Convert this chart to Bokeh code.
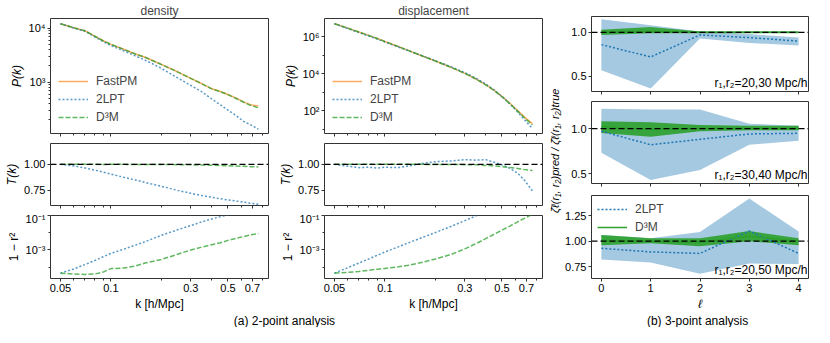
from bokeh.plotting import figure
from bokeh.models import Range1d, FixedTicker, Span, Label, NumeralTickFormatter, CustomLabelingPolicy
from bokeh.layouts import column, row
from bokeh.embed import file_html
from bokeh.resources import INLINE
import math

# ---------------- data ----------------
k_grid = [0.05, 0.06, 0.07, 0.08, 0.09, 0.10, 0.12, 0.14, 0.16, 0.20,
          0.25, 0.30, 0.35, 0.40, 0.45, 0.50, 0.56, 0.62, 0.68, 0.76]

# density
pk_den_fastpm = [12000, 10100, 8900, 7070, 5810, 4990, 4010, 3300, 2880, 2130,
                 1550, 1175, 930, 755, 670, 590, 505, 431, 383, 360]
pk_den_2lpt = [12000, 10000, 8700, 6900, 5600, 4750, 3750, 3050, 2550, 1800,
               1200, 866, 660, 487, 381, 303, 239, 188, 163, 135]
pk_den_d3m = [12000, 10100, 8900, 7080, 5800, 4990, 4010, 3300, 2880, 2120,
              1545, 1170, 925, 750, 665, 585, 498, 424, 373, 335]
T_den_2lpt = [1.0, 0.985, 0.965, 0.945, 0.925, 0.907, 0.875, 0.85, 0.826, 0.79,
              0.75, 0.722, 0.70, 0.684, 0.67, 0.658, 0.648, 0.637, 0.627, 0.616]
T_den_d3m = [1.0, 1.0, 1.0, 1.0, 0.999, 1.0, 1.0, 0.999, 0.999, 0.998,
             0.997, 0.995, 0.993, 0.991, 0.989, 0.987, 0.984, 0.981, 0.978, 0.975]
k_r2_den_2lpt = [0.05, 0.06, 0.07, 0.08, 0.09, 0.10, 0.12, 0.14, 0.16, 0.20,
                 0.25, 0.30, 0.35, 0.40, 0.45, 0.50]
r2_den_2lpt = [4.5e-5, 7.9e-5, 1.41e-4, 2.4e-4, 4.0e-4, 6.3e-4, 1.12e-3, 1.9e-3, 3.0e-3, 7.1e-3,
               1.48e-2, 2.6e-2, 4.3e-2, 6.3e-2, 8.5e-2, 0.11]
r2_den_d3m = [4.5e-5, 4.0e-5, 3.8e-5, 4.0e-5, 5.2e-5, 8.3e-5, 8.9e-5, 1.17e-4, 1.74e-4, 2.8e-4,
              5.6e-4, 1.0e-3, 1.48e-3, 2.0e-3, 2.6e-3, 3.6e-3, 4.7e-3, 6.0e-3, 7.4e-3, 8.9e-3]

# displacement
pk_dis_fastpm = [4.9e6, 2.82e6, 1.74e6, 1.15e6, 7.8e5, 5.4e5, 2.9e5, 1.7e5, 1.05e5, 4.8e4,
                 2.14e4, 1.05e4, 5.2e3, 2.57e3, 1.26e3, 600, 251, 105, 48, 20]
pk_dis_2lpt = [4.9e6, 2.68e6, 1.63e6, 1.075e6, 7.3e5, 5.1e5, 2.76e5, 1.65e5, 1.06e5, 5.04e4,
               2.28e4, 1.15e4, 5.66e3, 2.78e3, 1.31e3, 594, 231, 88, 34.6, 11.1]
pk_dis_d3m = [4.9e6, 2.82e6, 1.74e6, 1.15e6, 7.8e5, 5.4e5, 2.9e5, 1.7e5, 1.05e5, 4.8e4,
              2.14e4, 1.05e4, 5.15e3, 2.52e3, 1.22e3, 574, 236, 97, 43, 17.6]
T_dis_2lpt = [1.0, 0.982, 0.968, 0.972, 0.965, 0.972, 0.968, 0.985, 1.005, 1.025,
              1.033, 1.045, 1.040, 1.045, 1.02, 0.995, 0.96, 0.915, 0.85, 0.745]
T_dis_d3m = [1.0, 1.0, 1.0, 1.0, 1.0, 1.0, 1.0, 1.0, 1.0, 0.999,
             0.998, 0.997, 0.995, 0.99, 0.985, 0.978, 0.97, 0.96, 0.95, 0.94]
k_r2_dis_2lpt = [0.05, 0.06, 0.07, 0.08, 0.09, 0.10, 0.12, 0.14, 0.16, 0.20,
                 0.25, 0.30, 0.35, 0.40]
r2_dis_2lpt = [4.5e-5, 9.3e-5, 1.74e-4, 3.0e-4, 4.9e-4, 7.6e-4, 1.5e-3, 2.7e-3, 4.5e-3, 1.02e-2,
               2.4e-2, 5.0e-2, 9.5e-2, 0.166]
r2_dis_d3m = [4.5e-5, 5.0e-5, 5.6e-5, 6.6e-5, 7.6e-5, 8.5e-5, 1.05e-4, 1.32e-4, 1.74e-4, 2.95e-4,
              5.6e-4, 1.15e-3, 2.34e-3, 4.5e-3, 8.3e-3, 1.41e-2, 2.5e-2, 4.3e-2, 6.8e-2, 0.12]

# 3-point ratios
ell = [0, 1, 2, 3, 4]
r1r2_labels = ["r\u2081,r\u2082=20,30 Mpc/h", "r\u2081,r\u2082=30,40 Mpc/h", "r\u2081,r\u2082=20,50 Mpc/h"]
lpt_mean = [[0.86, 0.72, 0.97, 0.94, 0.90],
            [0.97, 0.82, 0.88, 0.94, 0.947],
            [0.93, 0.895, 0.88, 1.10, 0.88]]
lpt_lo = [[0.57, 0.36, 0.93, 0.88, 0.85],
          [0.73, 0.43, 0.54, 0.82, 0.865],
          [0.82, 0.79, 0.68, 0.78, 0.775]]
lpt_hi = [[1.15, 1.08, 1.01, 0.98, 0.94],
          [1.22, 1.21, 1.21, 1.054, 1.03],
          [1.06, 1.03, 1.09, 1.42, 1.095]]
d3m_mean = [[1.0, 1.01, 1.0, 1.0, 1.0],
            [1.02, 0.99, 1.0, 1.0, 1.0],
            [1.01, 1.0, 0.99, 1.05, 1.0]]
d3m_lo = [[0.97, 0.99, 0.99, 0.99, 0.99],
          [0.95, 0.91, 0.97, 0.98, 0.98],
          [0.96, 0.98, 0.95, 1.0, 0.96]]
d3m_hi = [[1.03, 1.06, 1.01, 1.01, 1.01],
          [1.08, 1.07, 1.04, 1.03, 1.03],
          [1.06, 1.03, 1.03, 1.10, 1.03]]

# ticks / labels
k_ticks = [0.05, 0.1, 0.3, 0.5, 0.7]
k_tick_labels = ["0.05", "0.1", "0.3", "0.5", "0.7"]
k_minor = [0.06, 0.07, 0.08, 0.09, 0.2, 0.4, 0.6, 0.8]
pden_ticks = [1e3, 1e4]
pden_labels = ["10\u00b3", "10\u2074"]
pden_minor = [200, 300, 400, 500, 600, 700, 800, 900, 2000, 3000, 4000, 5000, 6000, 7000, 8000, 9000]
pdis_ticks = [1e2, 1e4, 1e6]
pdis_labels = ["10\u00b2", "10\u2074", "10\u2076"]
pdis_minor = [10, 1e3, 1e5]
r2_ticks = [1e-3, 1e-1]
r2_labels = ["10\u207b\u00b3", "10\u207b\u00b9"]
r2_minor = [1e-4, 1e-2]

# ---------------- style ----------------
FONT = "Liberation Sans"
EDGE = "#333333"
C_FPM, C_LPT, C_D3M = "#ff7f0e", "#1f77b4", "#2ca02c"

NO_LABELS = """
const all = [...indices]
for (const i of all) { indices.unset(i) }
return indices
"""


def hide_labels(ax):
    ax.major_label_text_font_size = "1px"
    ax.major_label_standoff = 0
    ax.major_label_policy = CustomLabelingPolicy(code=NO_LABELS)


def make_fig(w, h, xr, yr, xtype, ytype, left, right, top, bottom, title=None):
    p = figure(width=w, height=h, x_range=xr, y_range=yr, x_axis_type=xtype, y_axis_type=ytype,
               output_backend="svg", toolbar_location=None, min_border_left=left,
               min_border_right=right, min_border_top=top, min_border_bottom=bottom, title=title)
    p.grid.visible = False
    p.outline_line_color = EDGE
    p.outline_line_width = 1
    for ax in p.axis:
        ax.axis_line_color = None
        ax.major_tick_line_color = EDGE
        ax.minor_tick_line_color = EDGE
        ax.major_tick_in = 0
        ax.major_tick_out = 3
        ax.minor_tick_in = 0
        ax.minor_tick_out = 2
        ax.major_label_text_font = FONT
        ax.major_label_text_font_size = "11px"
        ax.major_label_text_color = "black"
        ax.major_label_standoff = 2
        ax.axis_label_text_font = FONT
        ax.axis_label_text_font_size = "12px"
        ax.axis_label_text_font_style = "normal"
        ax.axis_label_text_color = "black"
        ax.axis_label_standoff = 2
    if title:
        p.title.align = "center"
        p.title.text_font = FONT
        p.title.text_font_size = "12px"
        p.title.text_font_style = "normal"
        p.title.standoff = 2
    return p


def set_k_axis(p, show_labels):
    p.xaxis.ticker = FixedTicker(ticks=k_ticks, minor_ticks=k_minor)
    p.xaxis.major_label_overrides = dict(zip(k_ticks, k_tick_labels))
    if not show_labels:
        hide_labels(p.xaxis[0])
    else:
        p.xaxis.axis_label = "k [h/Mpc]"


K_RANGE = (0.0436, 0.873)
T_RANGE = (0.605, 1.2)
R2_RANGE = (2.2e-5, 0.1)


def style_legend(lg, loc, margin):
    lg.location = loc
    lg.border_line_color = None
    lg.background_fill_alpha = 0
    lg.label_text_font = FONT
    lg.label_text_font_size = "12px"
    lg.glyph_width = 30
    lg.glyph_height = 16
    lg.label_height = 16
    lg.spacing = 2
    lg.padding = 2
    lg.margin = margin
    lg.label_standoff = 8


def two_point_column(title, pk_f, pk_l, pk_d, prange, pticks, plabels, pminor,
                     T_l, T_d, k_r2l, r2_l, r2_d, left, right, w):
    # P(k)
    pa = make_fig(w, 140, Range1d(*K_RANGE), Range1d(*prange), "log", "log", left, right, 16, 6, title)
    set_k_axis(pa, False)
    pa.yaxis.ticker = FixedTicker(ticks=pticks, minor_ticks=pminor)
    pa.yaxis.major_label_overrides = dict(zip(pticks, plabels))
    pa.yaxis.axis_label = "P(k)"
    pa.yaxis.axis_label_text_font_style = "italic"
    pa.line(k_grid, pk_f, color=C_FPM, alpha=0.65, line_width=1.5, legend_label="FastPM")
    pa.line(k_grid, pk_l, color=C_LPT, alpha=0.75, line_width=1.5, line_dash="2 2", legend_label="2LPT")
    pa.line(k_grid, pk_d, color=C_D3M, alpha=0.75, line_width=1.5, line_dash="5 2", legend_label="D\u00b3M")
    style_legend(pa.legend[0], "bottom_left", 8)

    # T(k)
    pb = make_fig(w, 72, Range1d(*K_RANGE), Range1d(*T_RANGE), "log", "linear", left, right, 3, 6)
    set_k_axis(pb, False)
    pb.yaxis.ticker = FixedTicker(ticks=[0.75, 1.0], minor_ticks=[])
    pb.yaxis.formatter = NumeralTickFormatter(format="0.00")
    pb.yaxis.axis_label = "T(k)"
    pb.yaxis.axis_label_text_font_style = "italic"
    pb.line(k_grid, T_l, color=C_LPT, alpha=0.75, line_width=1.5, line_dash="2 2")
    pb.line(k_grid, T_d, color=C_D3M, alpha=0.75, line_width=1.5, line_dash="5 2")
    pb.add_layout(Span(location=1.0, dimension="width", line_color="black", line_width=1.3, line_dash="6 3"))

    # 1 - r^2
    pc = make_fig(w, 101, Range1d(*K_RANGE), Range1d(*R2_RANGE), "log", "log", left, right, 3, 34)
    set_k_axis(pc, True)
    pc.yaxis.ticker = FixedTicker(ticks=r2_ticks, minor_ticks=r2_minor)
    pc.yaxis.major_label_overrides = dict(zip(r2_ticks, r2_labels))
    pc.yaxis.axis_label = "1 \u2212 r\u00b2"
    pc.line(k_r2l, r2_l, color=C_LPT, alpha=0.75, line_width=1.5, line_dash="2 2")
    pc.line(k_grid, r2_d, color=C_D3M, alpha=0.75, line_width=1.5, line_dash="5 2")
    return column(pa, pb, pc)


col1 = two_point_column("density", pk_den_fastpm, pk_den_2lpt, pk_den_d3m, (112, 15000),
                        pden_ticks, pden_labels, pden_minor, T_den_2lpt, T_den_d3m,
                        k_r2_den_2lpt, r2_den_2lpt, r2_den_d3m, 50, 6, 274)
col2 = two_point_column("displacement", pk_dis_fastpm, pk_dis_2lpt, pk_dis_d3m, (6.1, 9.3e6),
                        pdis_ticks, pdis_labels, pdis_minor, T_dis_2lpt, T_dis_d3m,
                        k_r2_dis_2lpt, r2_dis_2lpt, r2_dis_d3m, 50, 4, 272)

# 3-point column
y_ranges = [(0.327, 1.18), (0.39, 1.30), (0.633, 1.45)]
y_ticks = [[0.5, 1.0], [0.5, 1.0], [0.75, 1.0, 1.25]]
y_fmt = ["0.0", "0.0", "0.00"]
heights = [98, 92, 123]
borders = [(16, 6), (3, 6), (5, 34)]
figs3 = []
for i in range(3):
    p = make_fig(250, heights[i], Range1d(-0.2, 4.2), Range1d(*y_ranges[i]), "linear", "linear",
                 28, 4, borders[i][0], borders[i][1])
    p.xaxis.ticker = FixedTicker(ticks=ell, minor_ticks=[])
    p.yaxis.ticker = FixedTicker(ticks=y_ticks[i], minor_ticks=[])
    p.yaxis.formatter = NumeralTickFormatter(format=y_fmt[i])
    if i < 2:
        hide_labels(p.xaxis[0])
    else:
        p.xaxis.axis_label = "\u2113"
        p.xaxis.axis_label_text_font_style = "italic"
    p.varea(x=ell, y1=lpt_lo[i], y2=lpt_hi[i], fill_color=C_LPT, fill_alpha=0.4)
    p.varea(x=ell, y1=d3m_lo[i], y2=d3m_hi[i], fill_color=C_D3M, fill_alpha=0.9)
    if i == 2:
        p.line(ell, lpt_mean[i], color=C_LPT, line_width=1.5, line_dash="2 2", legend_label="2LPT")
        p.line(ell, d3m_mean[i], color=C_D3M, line_width=1.5, legend_label="D\u00b3M")
        style_legend(p.legend[0], "top_left", 6)
    else:
        p.line(ell, lpt_mean[i], color=C_LPT, line_width=1.5, line_dash="2 2")
        p.line(ell, d3m_mean[i], color=C_D3M, line_width=1.5)
    p.add_layout(Span(location=1.0, dimension="width", line_color="black", line_width=1.3, line_dash="6 3"))
    p.add_layout(Label(x=4.2, y=y_ranges[i][0], text=r1r2_labels[i], text_align="right",
                       text_baseline="bottom", x_offset=-1, y_offset=2, text_font=FONT,
                       text_font_size="12px", text_color="black"))
    figs3.append(p)
col3 = column(*figs3)


def text_fig(w, h, text, x, y, angle=0.0, size="12px", style="normal"):
    p = figure(width=w, height=h, x_range=Range1d(0, 1), y_range=Range1d(0, 1),
               output_backend="svg", toolbar_location=None, min_border=0, title=None,
               x_axis_location=None, y_axis_location=None, outline_line_color=None)
    p.grid.visible = False
    p.add_layout(Label(x=x, y=y, text=text, angle=angle, text_align="center",
                       text_baseline="middle", text_font=FONT, text_font_size=size,
                       text_font_style=style, text_color="black"))
    return p


zfig = text_fig(16, 313, "\u03b6\u0304\u2113(r\u2081, r\u2082)pred / \u03b6\u0304\u2113(r\u2081, r\u2082)true",
                0.55, 0.52, angle=math.pi / 2, size="11px", style="italic")
capA = text_fig(546, 14, "(a) 2-point analysis", 0.52, 0.5)
capB = text_fig(266, 14, "(b) 3-point analysis", 0.568, 0.5)

layout = column(row(col1, col2, zfig, col3), row(capA, capB))

open("out.html", "w").write(file_html(layout, INLINE))
